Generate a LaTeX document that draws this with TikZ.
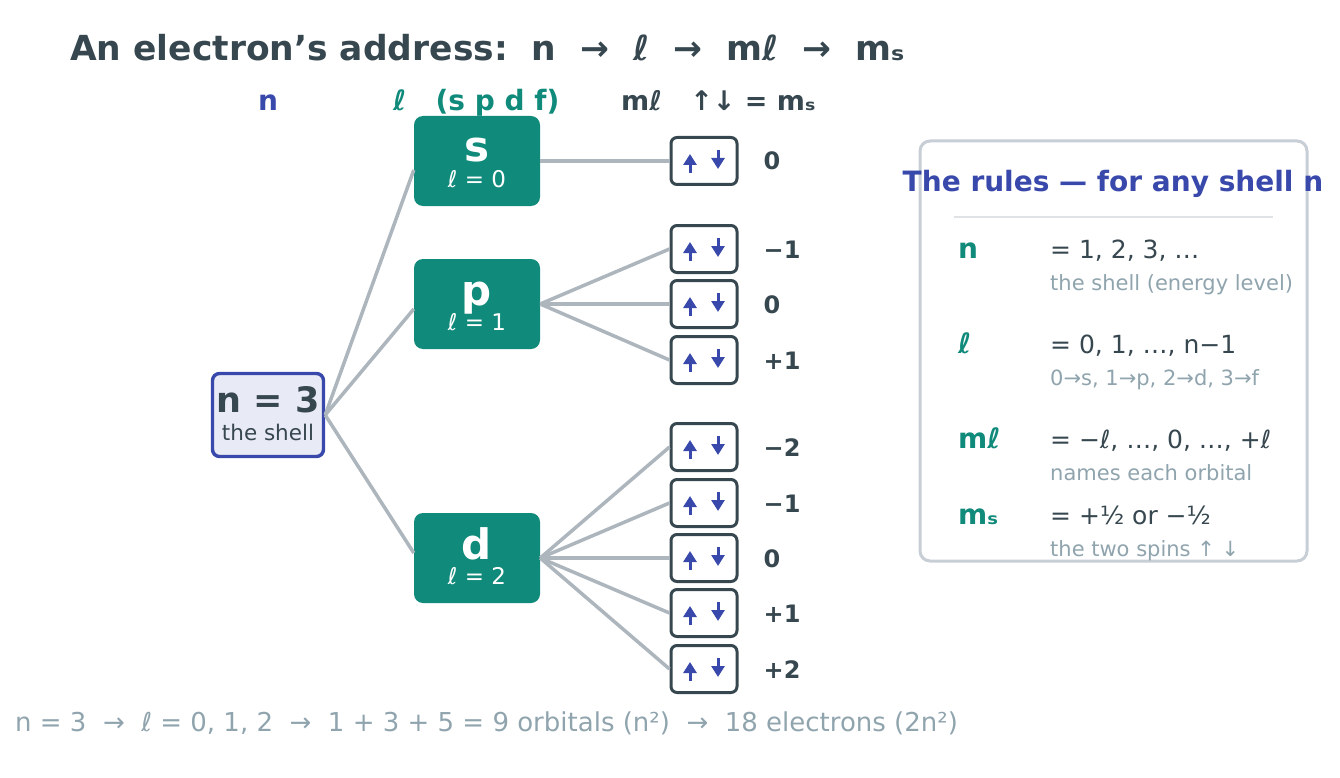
\documentclass[tikz,border=0pt]{standalone}
\usepackage{fontspec}
\setmainfont{DejaVu Sans}
\usetikzlibrary{positioning, arrows.meta}

\definecolor{ink}{HTML}{37474F}
\definecolor{indigo}{HTML}{3949AB}
\definecolor{tealgreen}{HTML}{108A7A}
\definecolor{linegray}{HTML}{ADB5BD}
\definecolor{mutedgray}{HTML}{90A4AE}
\definecolor{panelgray}{HTML}{C8CED5}
\definecolor{rulegray}{HTML}{DFE3E6}
\definecolor{shellfill}{HTML}{E8EAF6}

\newcommand{\fsz}[1]{\fontsize{#1pt}{#1pt}\selectfont}

\begin{document}
\begin{tikzpicture}[
    x=1pt, y=-1pt,
    txt/.style={inner sep=0pt, anchor=base west},
    shell/.style={draw=indigo, line width=3.4pt, fill=shellfill, rounded corners=7pt, minimum width=111pt, minimum height=83pt},
    subshell/.style={fill=tealgreen, rounded corners=9pt, minimum width=126pt, minimum height=90pt},
    letter/.style={inner sep=0pt, anchor=base, text=white, font=\fsz{42}\bfseries},
    lvalue/.style={inner sep=0pt, anchor=base, text=white, font=\fsz{23}},
    spin/.style={indigo, line width=3pt, -{Triangle[length=11pt, width=13pt]}},
    orbital/.style={draw=ink, line width=3pt, fill=white, rounded corners=6pt, minimum width=66pt, minimum height=47pt,
        path picture={
            \draw[spin] ([xshift=-14pt, yshift=-12pt]path picture bounding box.center) -- ++(0pt, 19pt);
            \draw[spin] ([xshift=14pt, yshift=11pt]path picture bounding box.center) -- ++(0pt, -19pt);
        }},
    mval/.style={txt, font=\fsz{24}\bfseries, text=ink},
    branch/.style={draw=linegray, line width=3.5pt},
    panel/.style={draw=panelgray, line width=3pt, fill=white, rounded corners=10pt, minimum width=387pt, minimum height=420pt},
    sym/.style={txt, font=\fsz{28}\bfseries, text=tealgreen},
    val/.style={txt, font=\fsz{25}, text=ink},
    note/.style={txt, font=\fsz{21}, text=mutedgray}
]
\useasboundingbox (0,0) rectangle (1340,778);

% Title and column heads
\node[txt, text=ink, font=\fsz{34.5}\bfseries] (title) at (70,61) {An electron’s address:~~n~~→~~ℓ~~→~~mℓ~~→~~mₛ};
\node[inner sep=0pt, anchor=base, text=indigo, font=\fsz{28}\bfseries] (headn) at (268,111) {n};
\node[txt, text=tealgreen, font=\fsz{28}\bfseries] (headl) at (393,111) {ℓ~~~(s p d f)};
\node[txt, text=ink, font=\fsz{27}\bfseries] (headm) at (621,111) {mℓ~~~↑↓ = mₛ};

% Shell and subshells
\node[shell] (n3) at (268,415) {};
\node[inner sep=0pt, anchor=base, text=ink, font=\fsz{35}\bfseries] at ([yshift=3pt]n3.center) {n = 3};
\node[inner sep=0pt, anchor=base, text=ink, font=\fsz{21.5}] at ([yshift=-25pt]n3.center) {the shell};

\node[subshell] (s) at (477,161) {};
\node[letter] at ([yshift=-1pt]s.center) {s};
\node[lvalue] at ([yshift=-26pt]s.center) {ℓ = 0};
\node[subshell] (p) at (477,304) {};
\node[letter] at ([yshift=-1pt]p.center) {p};
\node[lvalue] at ([yshift=-26pt]p.center) {ℓ = 1};
\node[subshell] (d) at (477,558) {};
\node[letter] at ([yshift=-1pt]d.center) {d};
\node[lvalue] at ([yshift=-26pt]d.center) {ℓ = 2};

% Orbitals
\node[orbital] (s0) at (704,161) {};
\node[orbital] (p1) at (704,249) {};
\node[orbital] (p2) at (704,304) {};
\node[orbital] (p3) at (704,360) {};
\node[orbital] (d1) at (704,447) {};
\node[orbital] (d2) at (704,503) {};
\node[orbital] (d3) at (704,558) {};
\node[orbital] (d4) at (704,613) {};
\node[orbital] (d5) at (704,669) {};

% m values
\node[mval] at ([xshift=25pt, yshift=-9pt]s0.east) {0};
\node[mval] at ([xshift=25pt, yshift=-9pt]p1.east) {−1};
\node[mval] at ([xshift=25pt, yshift=-9pt]p2.east) {0};
\node[mval] at ([xshift=25pt, yshift=-9pt]p3.east) {+1};
\node[mval] at ([xshift=25pt, yshift=-9pt]d1.east) {−2};
\node[mval] at ([xshift=25pt, yshift=-9pt]d2.east) {−1};
\node[mval] at ([xshift=25pt, yshift=-9pt]d3.east) {0};
\node[mval] at ([xshift=25pt, yshift=-9pt]d4.east) {+1};
\node[mval] at ([xshift=25pt, yshift=-9pt]d5.east) {+2};

% Branches
\draw[branch] (n3.east) -- ([yshift=-9pt]s.west);
\draw[branch] (n3.east) -- ([yshift=-5pt]p.west);
\draw[branch] (n3.east) -- ([yshift=5pt]d.west);
\draw[branch] (s.east) -- (s0.west);
\draw[branch] (p.east) -- (p1.west);
\draw[branch] (p.east) -- (p2.west);
\draw[branch] (p.east) -- (p3.west);
\draw[branch] (d.east) -- (d1.west);
\draw[branch] (d.east) -- (d2.west);
\draw[branch] (d.east) -- (d3.west);
\draw[branch] (d.east) -- (d4.west);
\draw[branch] (d.east) -- (d5.west);

% Rules panel
\node[panel] (rules) at (1113.5,351) {};
\node[inner sep=0pt, anchor=base, text=indigo, font=\fsz{28}\bfseries] (rulestitle) at (1113,192) {The rules — for any shell n};
\draw[rulegray, line width=2pt] (954,217) -- (1273,217);

\node[sym] (rn) at (958,258) {n};
\node[val] (vn) at (1050,258) {= 1, 2, 3, …};
\node[note] (tn) at (1050,290) {the shell (energy level)};

\node[sym] (rl) at (958,353) {ℓ};
\node[val] (vl) at (1050,353) {= 0, 1, …, n−1};
\node[note] (tl) at (1050,385) {0→s, 1→p, 2→d, 3→f};

\node[sym] (rm) at (958,448) {mℓ};
\node[val] (vm) at (1050,448) {= −ℓ, …, 0, …, +ℓ};
\node[note] (tm) at (1050,480) {names each orbital};

\node[sym] (rs) at (958,524) {mₛ};
\node[val] (vs) at (1050,524) {= +½ or −½};
\node[note] (ts) at (1050,556) {the two spins ↑ ↓};

% Summary line
\node[txt, text=mutedgray, font=\fsz{26}] (summary) at (15,731) {n = 3~~→~~ℓ = 0, 1, 2~~→~~1 + 3 + 5 = 9 orbitals (n²)~~→~~18 electrons (2n²)};

\end{tikzpicture}
\end{document}
